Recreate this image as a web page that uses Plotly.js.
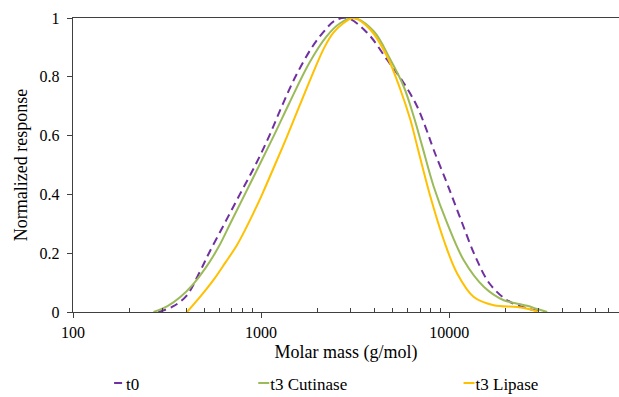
<!DOCTYPE html>
<html>
<head>
<meta charset="utf-8">
<script src="https://cdn.plot.ly/plotly-3.0.1.min.js"></script>
<style>html,body{margin:0;padding:0;background:#fff;}#chart{width:619px;height:397px;}</style>
</head>
<body>
<div id="chart"></div>
<script>
// Molar mass (g/mol) and normalized response
const t0Mass = [284, 338, 401, 475, 528, 638, 771, 933, 1107, 1290, 1522, 1863, 2132, 2454, 2867, 3663, 4680, 5734, 6758, 7574, 8281, 9735, 11560, 13800, 16390, 20340, 25990, 31860];
const t0Resp = [0, 0.018, 0.055, 0.14, 0.2, 0.3, 0.4, 0.5, 0.6, 0.7, 0.8, 0.9, 0.95, 0.99, 1.0, 0.95, 0.858, 0.779, 0.699, 0.62, 0.551, 0.438, 0.313, 0.188, 0.097, 0.04, 0.012, 0];

const cutMass = [268, 318, 372, 436, 506, 593, 687, 877, 1170, 1414, 1807, 2225, 2642, 3109, 3972, 4874, 5734, 6482, 7184, 8281, 9759, 11960, 15280, 19520, 22530, 25990, 29490, 33210];
const cutResp = [0, 0.02, 0.051, 0.095, 0.149, 0.22, 0.302, 0.438, 0.6, 0.711, 0.848, 0.937, 0.983, 1.0, 0.955, 0.858, 0.767, 0.665, 0.565, 0.426, 0.302, 0.176, 0.086, 0.04, 0.03, 0.021, 0.01, 0];

const lipMass = [404, 475, 560, 646, 745, 825, 913, 1016, 1184, 1380, 1598, 1852, 2171, 2425, 2751, 3109, 3814, 4680, 5508, 6226, 6758, 7952, 9361, 11030, 13520, 17270, 23000, 26410, 29970];
const lipResp = [0, 0.052, 0.11, 0.168, 0.228, 0.281, 0.338, 0.402, 0.5, 0.6, 0.7, 0.8, 0.9, 0.95, 0.983, 1.0, 0.96, 0.869, 0.756, 0.653, 0.565, 0.392, 0.245, 0.131, 0.051, 0.023, 0.017, 0.01, 0];

const seriesNames = ['t0', 't3 Cutinase', 't3 Lipase'];
const seriesColors = ['#7030A0', '#9BBB59', '#FFC000'];

const xTickVals = [100, 1000, 10000];
const xTickText = ['100', '1000', '10000'];
const xMinorVals = [200, 300, 400, 500, 600, 700, 800, 900, 2000, 3000, 4000, 5000, 6000, 7000, 8000, 9000, 20000, 30000, 40000, 50000, 60000, 70000, 80000];
const yTickVals = [0, 0.2, 0.4, 0.6, 0.8, 1];
const yTickText = ['0', '0.2', '0.4', '0.6', '0.8', '1'];

const FONT = 'Liberation Serif, Times New Roman, serif';

const traces = [
  {x: t0Mass, y: t0Resp, name: seriesNames[0], legend: 'legend',
   line: {color: seriesColors[0], width: 2, dash: '8px,5px', shape: 'spline', smoothing: 1}},
  {x: cutMass, y: cutResp, name: seriesNames[1], legend: 'legend2',
   line: {color: seriesColors[1], width: 2, shape: 'spline', smoothing: 1}},
  {x: lipMass, y: lipResp, name: seriesNames[2], legend: 'legend3',
   line: {color: seriesColors[2], width: 2, shape: 'spline', smoothing: 1}}
].map(t => Object.assign({type: 'scatter', mode: 'lines', hoverinfo: 'skip'}, t));

const legendBase = {orientation: 'h', yref: 'container', yanchor: 'middle', y: 0.034,
  font: {family: FONT, size: 17, color: '#000'}, bgcolor: 'rgba(0,0,0,0)', itemwidth: 30,
  borderwidth: 0};

const layout = {
  width: 619, height: 397,
  margin: {l: 73, r: 0, t: 18, b: 85, autoexpand: false},
  paper_bgcolor: '#fff', plot_bgcolor: '#fff',
  font: {family: FONT, color: '#000'},
  xaxis: {
    type: 'log', range: [2, Math.log10(80000)],
    tickvals: xTickVals, ticktext: xTickText,
    ticks: 'outside', ticklen: 5, tickcolor: '#404040', tickwidth: 1,
    minor: {ticks: 'inside', ticklen: 4, tickcolor: '#404040', tickwidth: 1, tickvals: xMinorVals},
    showline: true, linecolor: '#404040', linewidth: 1.3, mirror: true,
    showgrid: false, zeroline: false, automargin: true,
    tickfont: {family: FONT, size: 16, color: '#000'},
    ticklabelstandoff: 0,
    title: {text: 'Molar mass (g/mol)', font: {family: FONT, size: 18, color: '#000'}, standoff: 6}
  },
  yaxis: {
    range: [0, 1], tickvals: yTickVals, ticktext: yTickText,
    ticks: 'outside', ticklen: 5, tickcolor: '#404040', tickwidth: 1,
    showline: true, linecolor: '#404040', linewidth: 1.3,
    showgrid: false, zeroline: false, automargin: true,
    tickfont: {family: FONT, size: 16, color: '#000'},
    ticklabelstandoff: 4,
    title: {text: 'Normalized response', font: {family: FONT, size: 18, color: '#000'}, standoff: 7}
  },
  legend: Object.assign({}, legendBase, {x: 0.024}),
  legend2: Object.assign({}, legendBase, {x: 0.288}),
  legend3: Object.assign({}, legendBase, {x: 0.664}),
  showlegend: true
};

Plotly.newPlot('chart', traces, layout, {displayModeBar: false, staticPlot: true}).then(function () {
  // shorten legend line samples to the short dash used in the reference legend
  document.querySelectorAll('#chart .legendlines path').forEach(function (p) {
    p.setAttribute('d', 'M28,0h11');
  });
});
</script>
</body>
</html>
